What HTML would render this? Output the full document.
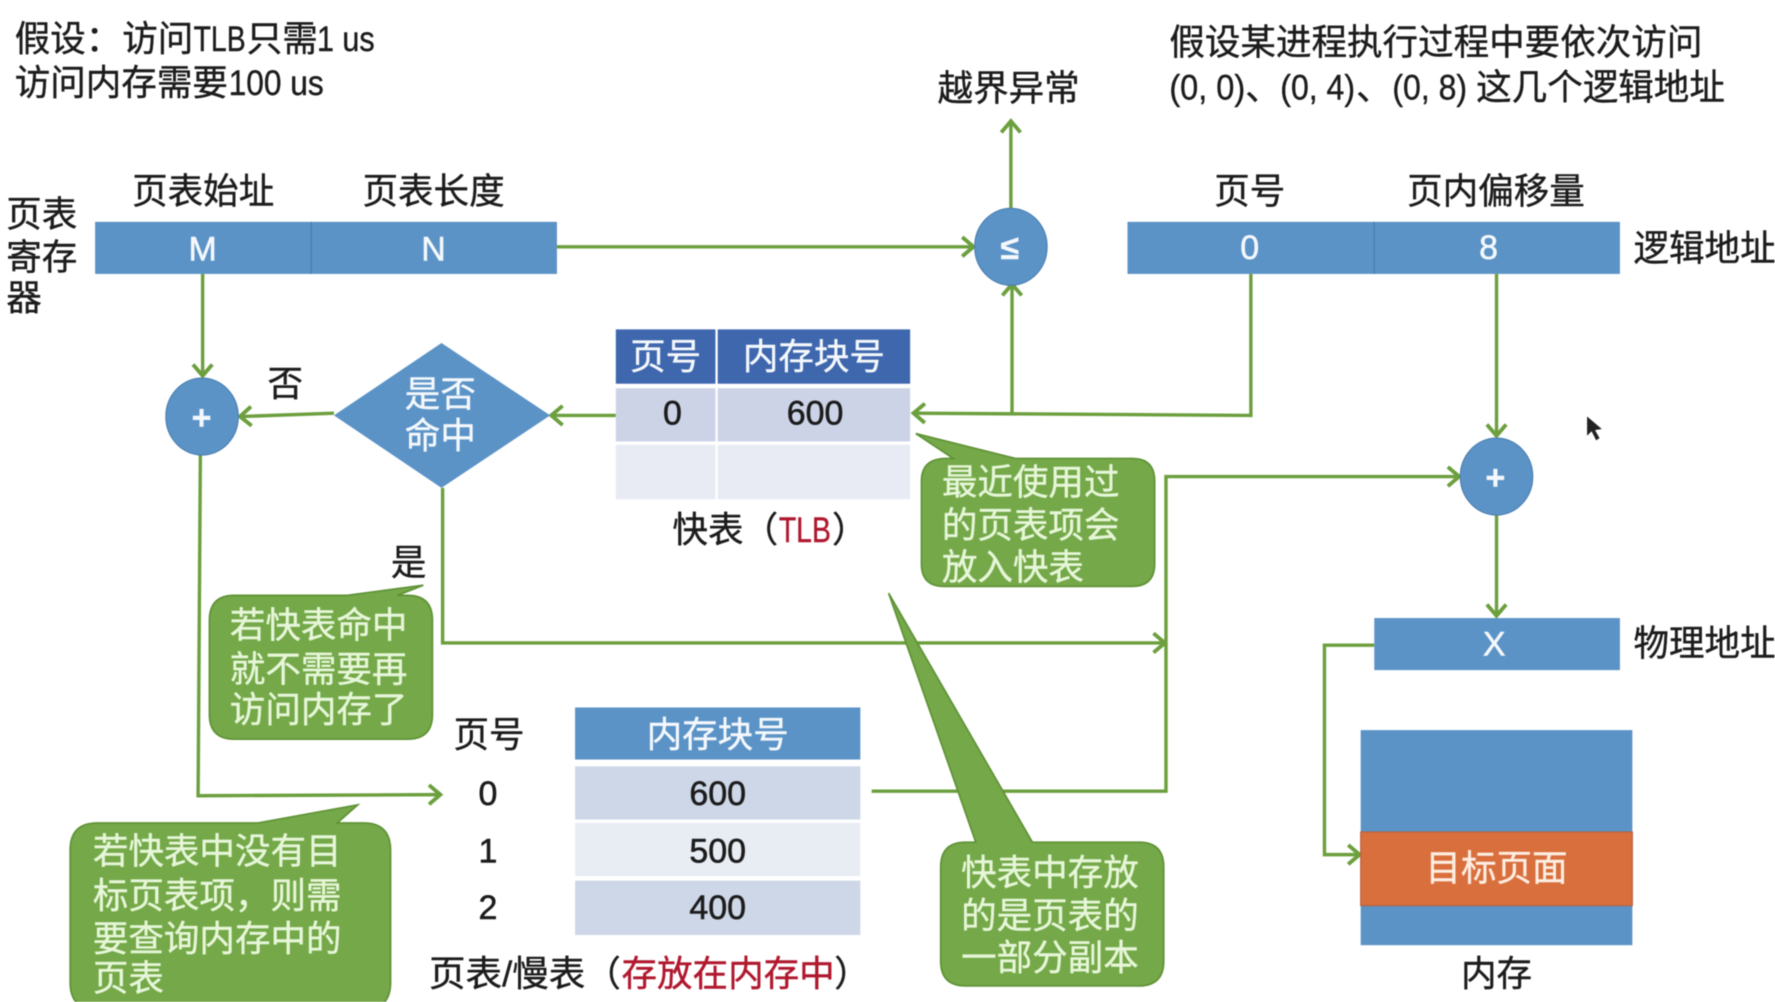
<!DOCTYPE html>
<html lang="zh">
<head>
<meta charset="utf-8">
<title>TLB 地址变换</title>
<style>
html,body{margin:0;padding:0;background:#fff;width:1775px;height:1002px;overflow:hidden}
svg{display:block;filter:blur(.6px)}
text{font-family:"Liberation Sans","Noto Sans CJK SC",sans-serif;font-size:31.4px;fill:#1c1c1c;stroke:#1c1c1c;stroke-width:.35}
.c{text-anchor:middle}
.w{fill:#f4f8fc;stroke:#f4f8fc}
.g{fill:#e6f6d8;stroke:#e6f6d8}
.n{font-size:30px;stroke-width:.5}
.r{fill:#b0182e;stroke:#b0182e}
.s{font-size:30px;font-weight:bold}
.l{fill:none;stroke:#6c9f3d;stroke-width:3;stroke-linejoin:miter}
.a{marker-end:url(#ah)}
.b{fill:#5b93c7}
.d{stroke:#4a7fb0;stroke-width:1.2}
.cb{fill:#74a848;stroke:#5f9236;stroke-width:1.5}
</style>
</head>
<body>
<svg width="1775" height="1002" viewBox="0 0 1568 885.2" preserveAspectRatio="none" xmlns="http://www.w3.org/2000/svg">
<defs>
<marker id="ah" markerUnits="userSpaceOnUse" markerWidth="24" markerHeight="24" refX="18" refY="12" orient="auto">
<path d="M8 3.500 L18 12 L8 20.500" fill="none" stroke="#6c9f3d" stroke-width="3.4"/>
</marker>
</defs>
<rect width="1568" height="886" fill="#fff"/>

<!-- top texts -->
<text x="13" y="45">假设：</text>
<text x="108" y="45">访问</text>
<text x="171" y="45" textLength="46" lengthAdjust="spacingAndGlyphs">TLB</text>
<text x="218" y="45">只需</text>
<text x="280" y="45" textLength="51" lengthAdjust="spacingAndGlyphs">1 us</text>
<text x="13" y="84">访问内存需要</text>
<text x="202" y="84" textLength="84" lengthAdjust="spacingAndGlyphs">100 us</text>
<text x="1033" y="48">假设某进程执行过程中要依次访问</text>
<text x="1033" y="88" textLength="67" lengthAdjust="spacingAndGlyphs">(0, 0)</text>
<text x="1100" y="88">、</text>
<text x="1131" y="88" textLength="66" lengthAdjust="spacingAndGlyphs">(0, 4)</text>
<text x="1198" y="88">、</text>
<text x="1230" y="88" textLength="66" lengthAdjust="spacingAndGlyphs">(0, 8)</text>
<text x="1304" y="88">这几个逻辑地址</text>
<text class="c" x="891" y="89">越界异常</text>

<!-- register -->
<text class="c" x="179.500" y="180">页表始址</text>
<text class="c" x="383" y="180">页表长度</text>
<text x="5.500" y="200">页表</text>
<text x="5.500" y="238">寄存</text>
<text x="5.500" y="274">器</text>
<rect class="b" x="84" y="196" width="408" height="46"/>
<line class="d" x1="275" y1="196" x2="275" y2="242"/>
<text class="c w n" x="179" y="230">M</text>
<text class="c w n" x="383" y="230">N</text>

<!-- logical address -->
<text class="c" x="1104" y="180">页号</text>
<text class="c" x="1321.500" y="180">页内偏移量</text>
<rect class="b" x="996" y="196" width="435" height="46"/>
<line class="d" x1="1214" y1="196" x2="1214" y2="242"/>
<text class="c w n" x="1104" y="229">0</text>
<text class="c w n" x="1315" y="229">8</text>
<text x="1443" y="230">逻辑地址</text>

<!-- connectors -->
<path class="l a" d="M492 218 H860"/>
<path class="l a" d="M893 185 L893 107"/>
<path class="l a" d="M1105 242 V367 L807 365"/>
<path class="l a" d="M894 365 V251"/>
<path class="l a" d="M179 242 V332"/>
<path class="l a" d="M544 367 H487"/>
<path class="l a" d="M295 365 L212 368"/>
<path class="l a" d="M177 402 L175 703 L389 702"/>
<path class="l a" d="M391 431 V568 H1029"/>
<path class="l a" d="M770 699 H1030 V421 H1289"/>
<path class="l a" d="M1322 242 V385"/>
<path class="l a" d="M1322 455 V544"/>
<path class="l a" d="M1214 570 H1170 V755 H1201"/>

<!-- circles / diamond -->
<ellipse class="b" cx="893" cy="218" rx="32" ry="34" stroke="#4a7fb0"/>
<text class="c w s" x="892" y="229">≤</text>
<ellipse class="b" cx="178.500" cy="368" rx="32" ry="34" stroke="#4a7fb0"/>
<text class="c w s" x="178" y="379">+</text>
<ellipse class="b" cx="1322" cy="421" rx="32" ry="34" stroke="#4a7fb0"/>
<text class="c w s" x="1321" y="432">+</text>
<polygon class="b" points="390,303 486,367 390,431 295,367"/>
<text class="c w" x="389" y="359">是否</text>
<text class="c w" x="389" y="396">命中</text>
<text class="c" x="252" y="350">否</text>
<text class="c" x="361" y="508">是</text>

<!-- TLB -->
<rect x="544" y="291" width="88" height="48" fill="#3f67ae"/>
<rect x="634" y="291" width="170" height="48" fill="#3f67ae"/>
<rect x="544" y="343" width="88" height="47" fill="#ccd3e6"/>
<rect x="634" y="343" width="170" height="47" fill="#ccd3e6"/>
<rect x="544" y="393" width="88" height="48" fill="#e8ebf4"/>
<rect x="634" y="393" width="170" height="48" fill="#e8ebf4"/>
<text class="c w" x="588" y="326">页号</text>
<text class="c w" x="719" y="326">内存块号</text>
<text class="c n" x="594" y="375">0</text>
<text class="c n" x="720" y="375">600</text>
<text x="594" y="479">快表</text>
<text x="656" y="479">（</text>
<text class="r" x="688" y="479" textLength="46" lengthAdjust="spacingAndGlyphs">TLB</text>
<text x="735" y="479">）</text>

<!-- page table -->
<text class="c" x="432" y="660">页号</text>
<rect class="b" x="508" y="625" width="252" height="46"/>
<rect x="508" y="677" width="252" height="47" fill="#cdd7e7"/>
<rect x="508" y="727" width="252" height="47" fill="#e8edf4"/>
<rect x="508" y="778" width="252" height="48" fill="#cdd7e7"/>
<text class="c w" x="634" y="660">内存块号</text>
<text class="c n" x="431" y="711">0</text>
<text class="c n" x="431" y="762">1</text>
<text class="c n" x="431" y="812">2</text>
<text class="c n" x="634" y="711">600</text>
<text class="c n" x="634" y="762">500</text>
<text class="c n" x="634" y="812">400</text>
<text x="379" y="871" textLength="138" lengthAdjust="spacingAndGlyphs">页表/慢表</text>
<text x="517" y="871">（</text>
<text class="r" x="549" y="871">存放在内存中</text>
<text x="737" y="871">）</text>

<!-- physical address + memory -->
<rect class="b" x="1214" y="546" width="217" height="46"/>
<text class="c w n" x="1320" y="579">X</text>
<text x="1443" y="579">物理地址</text>
<rect class="b" x="1202" y="645" width="240" height="190"/>
<rect x="1202" y="735" width="240" height="65" fill="#d96f3d" stroke="#b9623a" stroke-width="1"/>
<text class="c" x="1322" y="778" style="fill:#fdeee2;stroke:#fdeee2">目标页面</text>
<text class="c" x="1322" y="871">内存</text>

<!-- callouts -->
<path class="cb" d="M836 405 H842 L809 383 L897 405 H1000 Q1020 405 1020 425 V498 Q1020 518 1000 518 H834 Q814 518 814 498 V425 Q814 405 836 405 Z"/>
<text class="g" x="832" y="437">最近使用过</text>
<text class="g" x="832" y="475">的页表项会</text>
<text class="g" x="832" y="512">放入快表</text>

<path class="cb" d="M207 526 H306 L374 517 L351 526 H360 Q382 526 382 548 V631 Q382 653 360 653 H207 Q185 653 185 631 V548 Q185 526 207 526 Z"/>
<text class="g" x="203" y="563">若快表命中</text>
<text class="g" x="203" y="602">就不需要再</text>
<text class="g" x="203" y="638">访问内存了</text>

<path class="cb" d="M86 727 H228 L316 711 L298 727 H321 Q345 727 345 751 V868 Q345 892 321 892 H86 Q62 892 62 868 V751 Q62 727 86 727 Z"/>
<text class="g" x="82" y="763">若快表中没有目</text>
<text class="g" x="82" y="802">标页表项，则需</text>
<text class="g" x="82" y="840">要查询内存中的</text>
<text class="g" x="82" y="875">页表</text>

<path class="cb" d="M853 744 H862 L785 524 L912 744 H1006 Q1028 744 1028 766 V849 Q1028 871 1006 871 H853 Q831 871 831 849 V766 Q831 744 853 744 Z"/>
<text class="g" x="849" y="782">快表中存放</text>
<text class="g" x="849" y="820">的是页表的</text>
<text class="g" x="849" y="857">一部分副本</text>

<!-- cursor -->
<path d="M1402 368 L1402 385 L1406 381 L1410 389 L1413 387 L1409 380 L1415 379 Z" fill="#222"/>
</svg>
</body>
</html>
